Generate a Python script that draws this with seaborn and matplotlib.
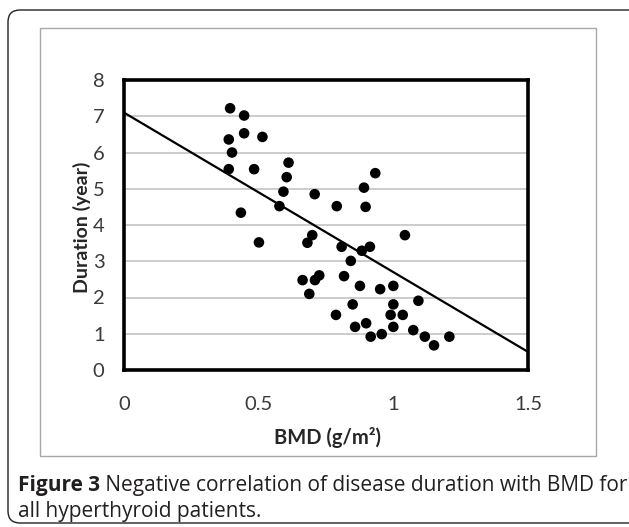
import numpy as np
import matplotlib.pyplot as plt
import seaborn as sns
from matplotlib.patches import FancyBboxPatch, Rectangle
from matplotlib.transforms import IdentityTransform

# values
bmd = [0.394, 0.446, 0.446, 0.389, 0.514, 0.401, 0.389, 0.483, 0.611, 0.604,
       0.592, 0.708, 0.577, 0.790, 0.434, 0.501, 0.897, 0.891, 0.933, 0.699,
       0.681, 0.808, 0.883, 0.913, 1.043, 0.842, 0.663, 0.709, 0.725, 0.688,
       0.817, 0.876, 0.951, 1.000, 1.093, 0.849, 1.000, 0.787, 0.990, 1.035,
       0.858, 0.899, 1.000, 0.916, 0.957, 1.074, 1.117, 1.151, 1.208]
duration = [7.22, 7.02, 6.53, 6.36, 6.43, 6.00, 5.54, 5.54, 5.72, 5.32,
            4.92, 4.85, 4.52, 4.52, 4.34, 3.52, 4.50, 5.03, 5.43, 3.72,
            3.51, 3.40, 3.29, 3.40, 3.72, 3.01, 2.48, 2.48, 2.61, 2.10,
            2.59, 2.32, 2.23, 2.32, 1.91, 1.81, 1.81, 1.52, 1.52, 1.52,
            1.19, 1.29, 1.19, 0.92, 0.99, 1.10, 0.92, 0.68, 0.92]

trend_intercept = 7.1
trend_slope = -4.4

x_ticks = [0, 0.5, 1, 1.5]
x_tick_labels = ['0', '0.5', '1', '1.5']
y_ticks = [0, 1, 2, 3, 4, 5, 6, 7, 8]

x_label = 'BMD (g/m\u00b2)'
y_label = 'Duration (year)'
caption_head = 'Figure 3'
caption_line1 = ' Negative correlation of disease duration with BMD for'
caption_line2 = 'all hyperthyroid patients.'

sns.set_theme(style="white")
plt.rcParams['font.family'] = ['Lato', 'DejaVu Sans']

W, H = 629, 527
fig = plt.figure(figsize=(W / 100, H / 100), dpi=100)
fig.patch.set_facecolor('white')


def px_box(x0, y0, x1, y1):
    """pixel box (top-left origin) -> display coords"""
    return x0, H - y1, x1 - x0, y1 - y0


# outer rounded frame (right edge runs off the picture)
bx, by, bw, bh = px_box(8, 10, 645, 523)
fig.patches.append(FancyBboxPatch((bx, by), bw, bh, boxstyle="round,pad=0,rounding_size=12",
                                  transform=IdentityTransform(), fill=False, ec='#222222', lw=1.0))
# gray chart frame
bx, by, bw, bh = px_box(40, 28, 596, 456)
fig.patches.append(Rectangle((bx, by), bw, bh, transform=IdentityTransform(),
                             fill=False, ec='#a8a8a8', lw=1.0))

ax = fig.add_axes([124 / W, 1 - 370 / H, 404 / W, 290 / H])
ax.set_facecolor('white')

sns.scatterplot(x=bmd, y=duration, color='black', s=58, edgecolor='none', ax=ax, zorder=3)

line_x = np.array([0, 1.5])
line_y = trend_intercept + trend_slope * line_x
sns.lineplot(x=line_x, y=line_y, color='black', lw=1.6, ax=ax, zorder=2)

ax.set_xlim(0, 1.5)
ax.set_ylim(0, 8)
ax.set_xticks(x_ticks)
ax.set_xticklabels(x_tick_labels)
ax.set_yticks(y_ticks)
ax.yaxis.grid(True, color='#c8c8c8', lw=1.3)
ax.xaxis.grid(False)
ax.set_axisbelow(True)
for sp in ax.spines.values():
    sp.set_visible(True)
    sp.set_color('black')
    sp.set_linewidth(2.6)
ax.tick_params(axis='both', length=0, labelsize=14.5, colors='#3a3a3a')
ax.tick_params(axis='x', pad=19)
ax.tick_params(axis='y', pad=14)

fig.text(328 / W, 1 - 438 / H, x_label, ha='center', va='center', fontsize=14.5,
         fontweight='bold', color='#262626')
fig.text(82 / W, 1 - 227 / H, y_label, ha='center', va='center', rotation=90,
         fontsize=14, fontweight='bold', color='#262626')

# caption
cap_font = ['Open Sans', 'DejaVu Sans']
t1 = fig.text(18 / W, 1 - 486 / H, caption_head, ha='left', va='center', fontsize=15,
              fontweight='bold', family=cap_font, color='#231f20')
ax.annotate(caption_line1, xy=(1, 0), xycoords=t1, ha='left', va='bottom', fontsize=15,
            family=cap_font, color='#231f20', annotation_clip=False)
fig.text(18 / W, 1 - 512 / H, caption_line2, ha='left', va='center', fontsize=15,
         family=cap_font, color='#231f20')

fig.savefig('out.png', dpi=100)
